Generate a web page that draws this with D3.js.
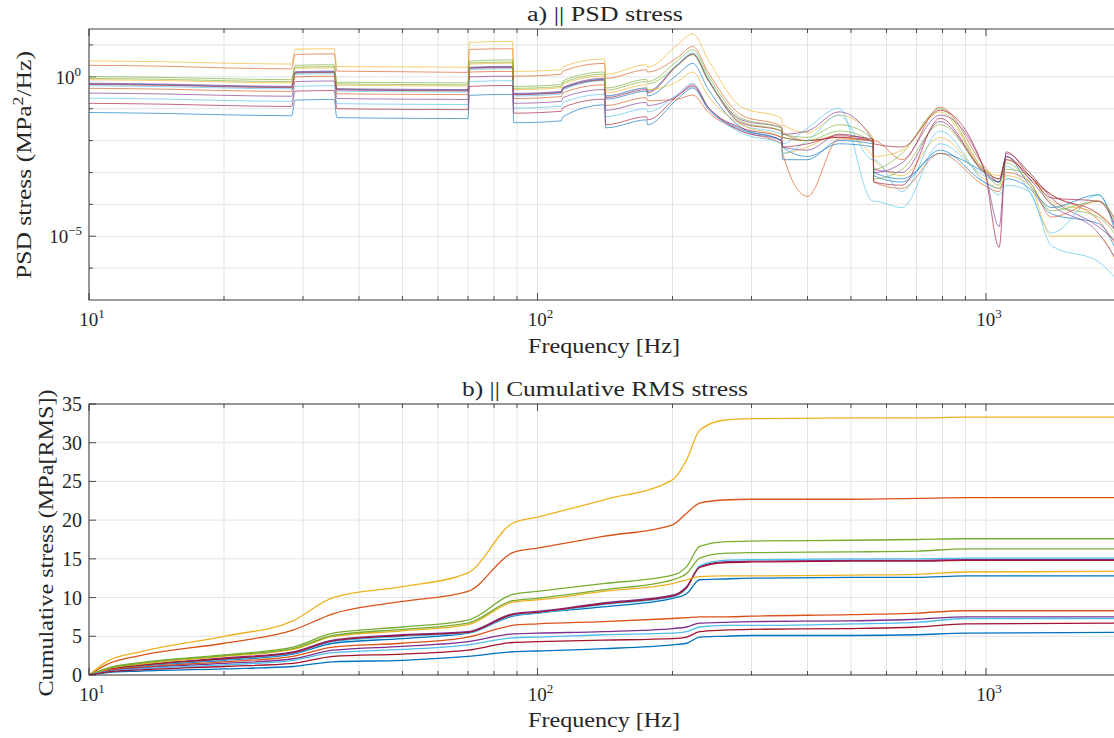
<!DOCTYPE html>
<html>
<head>
<meta charset="utf-8">
<script src="https://cdn.jsdelivr.net/npm/d3@7/dist/d3.min.js"></script>
<style>
  body { margin: 0; background: #fff; }
  text { font-family: "Liberation Serif", "DejaVu Serif", serif; fill: #262626; }
</style>
</head>
<body>
<div class="svg-container"></div>
<script>
// frequency grids [Hz]
var freqPsd = [10, 15, 20, 28.3, 28.8, 35.2, 35.7, 50, 70, 70.5, 88, 88.5, 113, 114, 141, 142, 175, 176, 205, 222, 240, 285,
               350, 352, 400, 470, 560, 562, 650, 790, 990, 1070, 1110, 1250, 1400, 1780, 2000];
var freqCum = [10, 11, 13, 20, 28.5, 35, 50, 70, 88, 100, 140, 200, 215, 230, 260, 300, 500, 700, 900, 2000];

// PSD stress, exponent of 10 (MPa^2/Hz)
var psdBlueA   = [-0.22,-0.25,-0.29,-0.32,0.14,0.16,-0.39,-0.41,-0.42,0.28,0.31,-0.54,-0.48,-0.35,-0.08,-0.7,-0.45,-0.6,0.07,0.42,-0.38,-1.6,-2.0,-2.6,-2.6,-2.0,-2.1,-3.1,-3.3,-2.3,-3.3,-3.5,-3.2,-3.5,-4.3,-4.6,-5.8];
var psdOrangeA = [0.36,0.33,0.28,0.25,0.70,0.72,0.18,0.16,0.14,0.86,0.88,0.02,0.08,0.18,0.42,-0.05,0.22,0.15,0.6,0.95,0.15,-1.2,-1.55,-1.75,-2.0,-1.9,-2.0,-2.0,-2.6,-0.95,-2.8,-3.3,-2.5,-3.2,-3.7,-4.5,-5.5];
var psdYellowA = [0.50,0.47,0.43,0.40,0.87,0.88,0.32,0.31,0.30,1.08,1.11,0.17,0.22,0.32,0.56,0.08,0.38,0.30,1.0,1.35,0.55,-0.95,-1.3,-1.5,-1.75,-1.2,-1.9,-2.5,-2.3,-1.1,-2.9,-3.1,-2.6,-3.0,-3.9,-4.3,-5.0];
var psdPurpleA = [-0.20,-0.23,-0.27,-0.30,0.16,0.18,-0.37,-0.39,-0.40,0.30,0.33,-0.52,-0.46,-0.33,-0.05,-0.6,-0.35,-0.45,0.37,0.72,-0.08,-1.35,-1.6,-1.8,-1.7,-1.1,-2.0,-3.0,-2.7,-1.2,-2.9,-4.7,-2.4,-3.0,-3.8,-4.7,-5.3];
var psdGreenA  = [0.01,-0.02,-0.06,-0.09,0.36,0.38,-0.17,-0.18,-0.19,0.50,0.53,-0.30,-0.24,-0.12,0.15,-0.35,-0.08,-0.15,0.5,0.85,0.05,-1.3,-1.6,-1.8,-1.9,-1.5,-1.95,-2.9,-2.4,-1.0,-2.9,-3.2,-2.9,-3.1,-4.0,-4.4,-5.2];
var psdCyanA   = [-0.28,-0.31,-0.35,-0.38,0.08,0.10,-0.45,-0.47,-0.48,0.23,0.25,-0.60,-0.54,-0.41,-0.12,-0.6,-0.35,-0.45,0.4,0.75,-0.05,-1.5,-1.8,-2.1,-1.6,-0.98,-3.9,-3.9,-4.1,-2.1,-3.1,-3.3,-2.8,-3.6,-4.9,-3.7,-5.4];
var psdRedA    = [-0.24,-0.27,-0.31,-0.34,0.12,0.14,-0.41,-0.43,-0.44,0.27,0.29,-0.56,-0.50,-0.37,-0.10,-0.65,-0.4,-0.5,0.35,0.70,-0.1,-1.45,-1.7,-1.9,-2.0,-1.9,-2.0,-2.1,-2.2,-1.05,-2.9,-5.35,-2.35,-3.1,-3.7,-4.3,-5.0];
var psdBlueB   = [-1.12,-1.15,-1.19,-1.22,-0.73,-0.71,-1.28,-1.30,-1.31,-0.58,-0.55,-1.44,-1.38,-1.25,-0.88,-1.6,-1.35,-1.5,-0.7,-0.35,-1.0,-1.65,-2.0,-2.2,-2.5,-2.1,-2.2,-3.0,-3.2,-2.4,-3.0,-3.3,-2.5,-3.4,-4.1,-3.7,-5.6];
var psdOrangeB = [-0.36,-0.39,-0.43,-0.46,0.0,0.02,-0.53,-0.55,-0.56,0.15,0.17,-0.68,-0.62,-0.50,-0.25,-0.9,-0.65,-0.75,-0.7,-0.57,-1.1,-1.7,-2.1,-2.4,-3.75,-1.95,-2.0,-3.3,-3.5,-2.4,-3.4,-3.6,-3.0,-3.3,-4.4,-3.9,-4.8];
var psdYellowB = [-0.09,-0.12,-0.16,-0.19,0.27,0.28,-0.26,-0.28,-0.29,0.40,0.43,-0.40,-0.34,-0.22,0.02,-0.5,-0.25,-0.4,-0.15,0.15,-0.6,-1.5,-1.9,-2.4,-2.2,-1.8,-2.5,-2.6,-3.1,-1.9,-3.2,-3.5,-3.1,-3.4,-5.0,-5.0,-6.2];
var psdPurpleB = [-0.51,-0.54,-0.58,-0.61,-0.15,-0.13,-0.68,-0.70,-0.71,0.0,0.02,-0.83,-0.77,-0.65,-0.40,-1.05,-0.8,-0.9,-0.6,-0.3,-0.95,-1.7,-2.0,-2.2,-2.3,-1.8,-2.05,-2.9,-3.0,-1.4,-3.0,-3.3,-2.5,-3.2,-4.0,-4.9,-6.0];
var psdGreenB  = [-0.05,-0.08,-0.12,-0.15,0.30,0.32,-0.22,-0.24,-0.25,0.44,0.46,-0.36,-0.30,-0.18,0.08,-0.42,-0.15,-0.22,0.35,0.70,-0.1,-1.4,-1.7,-1.9,-2.0,-1.7,-2.05,-3.2,-2.9,-1.5,-3.0,-3.4,-2.7,-3.3,-4.2,-3.9,-4.9];
var psdCyanB   = [-0.67,-0.70,-0.74,-0.77,-0.30,-0.28,-0.84,-0.86,-0.87,-0.15,-0.12,-0.98,-0.92,-0.80,-0.55,-1.25,-1.0,-1.1,-0.55,-0.2,-0.95,-1.76,-2.1,-2.4,-2.0,-1.2,-2.6,-2.6,-3.6,-1.7,-3.3,-3.7,-3.4,-3.6,-5.3,-5.8,-6.5];
var psdRedB    = [-0.83,-0.86,-0.90,-0.93,-0.45,-0.43,-1.0,-1.02,-1.03,-0.30,-0.27,-1.14,-1.08,-0.96,-0.70,-1.5,-1.25,-1.35,-0.6,-0.25,-0.95,-1.6,-1.9,-2.2,-2.1,-1.85,-1.95,-3.3,-3.4,-1.3,-2.95,-3.2,-2.6,-3.1,-3.8,-3.9,-5.1];

// cumulative RMS stress (MPa)
var cumBlueA   = [0,0.65,1.15,1.9,2.7,4.1,4.7,5.4,7.6,8.0,8.8,9.9,10.5,12.3,12.4,12.5,12.6,12.6,12.8,12.8];
var cumOrangeA = [0,1.4,2.5,4.1,5.8,7.9,9.5,10.8,15.8,16.4,17.9,19.4,20.9,22.2,22.6,22.7,22.7,22.8,22.9,22.9];
var cumYellowA = [0,1.8,3.0,5.0,7.0,10.0,11.4,13.2,19.6,20.4,22.6,25.2,27.8,31.6,32.9,33.1,33.2,33.2,33.3,33.3];
var cumPurpleA = [0,0.75,1.3,2.2,3.0,4.5,5.2,5.6,7.9,8.2,9.3,10.3,11.4,14.0,14.6,14.7,14.8,14.8,14.9,14.9];
var cumGreenA  = [0,0.9,1.6,2.6,3.6,5.4,6.2,7.1,10.4,10.8,11.8,12.9,14.0,16.6,17.2,17.3,17.4,17.5,17.6,17.6];
var cumCyanA   = [0,0.7,1.2,2.0,2.8,4.3,5.0,5.4,7.7,8.0,9.1,10.1,11.2,14.1,14.8,14.9,15.0,15.0,15.1,15.1];
var cumRedA    = [0,0.7,1.25,2.1,2.9,4.4,5.1,5.5,7.8,8.1,9.2,10.2,11.3,13.9,14.5,14.6,14.7,14.7,14.8,14.8];
var cumBlueB   = [0,0.3,0.5,0.8,1.1,1.7,1.9,2.4,3.0,3.1,3.4,3.9,4.1,4.9,5.0,5.1,5.1,5.2,5.4,5.5];
var cumOrangeB = [0,0.6,1.0,1.7,2.4,3.6,4.1,4.9,6.4,6.6,6.9,7.3,7.4,7.5,7.5,7.6,7.8,8.0,8.3,8.3];
var cumYellowB = [0,0.8,1.4,2.4,3.3,5.0,5.7,6.5,9.4,9.7,10.8,11.8,12.3,12.7,12.8,12.8,12.9,13.0,13.3,13.4];
var cumPurpleB = [0,0.5,0.9,1.5,2.1,3.2,3.7,4.3,5.3,5.4,5.6,6.0,6.2,6.7,6.8,6.9,7.0,7.2,7.5,7.5];
var cumGreenB  = [0,0.85,1.5,2.5,3.4,5.1,5.9,6.7,9.6,9.9,11.0,12.3,13.1,15.1,15.7,15.8,15.9,16.0,16.3,16.3];
var cumCyanB   = [0,0.45,0.8,1.3,1.9,2.9,3.3,3.9,4.8,4.9,5.2,5.4,5.6,6.2,6.4,6.4,6.6,6.8,7.3,7.3];
var cumRedB    = [0,0.4,0.65,1.1,1.5,2.4,2.7,3.2,4.2,4.3,4.5,4.7,4.9,5.6,5.8,5.9,6.0,6.2,6.6,6.7];

var lineColors = ["#0072BD","#D95319","#EDB120","#7E2F8E","#77AC30","#4DBEEE","#A2142F"];
var psdSeries = [psdBlueA, psdOrangeA, psdYellowA, psdPurpleA, psdGreenA, psdCyanA, psdRedA,
                 psdBlueB, psdOrangeB, psdYellowB, psdPurpleB, psdGreenB, psdCyanB, psdRedB];
var cumSeries = [cumBlueA, cumOrangeA, cumYellowA, cumPurpleA, cumGreenA, cumCyanA, cumRedA,
                 cumBlueB, cumOrangeB, cumYellowB, cumPurpleB, cumGreenB, cumCyanB, cumRedB];

var width = 1114, height = 738;
var axisColor = "#262626", gridColor = "#e3e3e3";
var left = 89, right = 1121;

var svg = d3.select(".svg-container").append("svg")
  .attr("width", width).attr("height", height);

var x = d3.scaleLog().domain([10, 2000]).range([left, right]);
var yPsd = d3.scaleLog().domain([1e-7, Math.pow(10, 1.5)]).range([300, 29]);
var yCum = d3.scaleLinear().domain([0, 35]).range([675, 404]);

function supLabel(sel, base, exp, xx, yy, anchor) {
  var t = sel.append("text").attr("x", xx).attr("y", yy)
    .attr("text-anchor", anchor).style("font-size", "19px");
  t.append("tspan").text(base);
  t.append("tspan").attr("dy", -8).style("font-size", "13px").text(exp);
  return t;
}

// label stretched to the width it has in the figure
function label(sel, txt, xx, yy, len, rot) {
  var t = sel.append("text").attr("text-anchor", "middle").style("font-size", "20px")
    .attr("textLength", len).attr("lengthAdjust", "spacingAndGlyphs");
  if (rot) t.attr("transform", "translate(" + xx + "," + yy + ") rotate(-90)");
  else t.attr("x", xx).attr("y", yy);
  if (txt) t.text(txt);
  return t;
}

function drawFrame(g, top, bottom, id) {
  // vertical grid at every log tick
  var xt = x.ticks();
  g.append("g").selectAll("line").data(xt).enter().append("line")
    .attr("x1", function(d){ return x(d); }).attr("x2", function(d){ return x(d); })
    .attr("y1", top).attr("y2", bottom)
    .attr("stroke", gridColor).attr("stroke-width", 1);
  // x tick marks (inward, top and bottom)
  var tk = g.append("g").attr("stroke", axisColor).attr("stroke-width", 0.8);
  xt.forEach(function(d){
    var len = [10, 100, 1000].indexOf(d) >= 0 ? 7 : 4;
    tk.append("line").attr("x1", x(d)).attr("x2", x(d)).attr("y1", bottom).attr("y2", bottom - len);
    tk.append("line").attr("x1", x(d)).attr("x2", x(d)).attr("y1", top).attr("y2", top + len);
  });
  [10, 100, 1000].forEach(function(d, i){
    supLabel(g, "10", String(i + 1), x(d) + 3, bottom + 26, "middle");
  });
  g.append("clipPath").attr("id", id).append("rect")
    .attr("x", left).attr("y", top).attr("width", right - left).attr("height", bottom - top);
  return tk;
}

function drawBox(g, top, bottom) {
  g.append("rect").attr("x", left).attr("y", top)
    .attr("width", right - left).attr("height", bottom - top)
    .attr("fill", "none").attr("stroke", axisColor).attr("stroke-width", 0.9);
}

// ---------- a) PSD stress ----------
var gA = svg.append("g");
var tkA = drawFrame(gA, 29, 300, "clipA");
var decades = d3.range(-6, 2);
gA.insert("g", ":first-child").selectAll("line").data(decades).enter().append("line")
  .attr("x1", left).attr("x2", right)
  .attr("y1", function(d){ return yPsd(Math.pow(10, d)); })
  .attr("y2", function(d){ return yPsd(Math.pow(10, d)); })
  .attr("stroke", gridColor).attr("stroke-width", 1);
decades.forEach(function(d){
  var len = (d === 0 || d === -5) ? 7 : 4;
  var yy = yPsd(Math.pow(10, d));
  tkA.append("line").attr("x1", left).attr("x2", left + len).attr("y1", yy).attr("y2", yy);
  tkA.append("line").attr("x1", right).attr("x2", right - len).attr("y1", yy).attr("y2", yy);
});
supLabel(gA, "10", "0", left - 8, yPsd(1) + 7, "end");
supLabel(gA, "10", "\u22125", left - 7, yPsd(1e-5) + 7, "end");

var psdLine = d3.line().curve(d3.curveMonotoneX)
  .x(function(d){ return x(d[0]); })
  .y(function(d){ return yPsd(Math.pow(10, d[1])); });
gA.append("g").attr("clip-path", "url(#clipA)").selectAll("path")
  .data(psdSeries).enter().append("path")
  .attr("d", function(s){ return psdLine(s.map(function(v, i){ return [freqPsd[i], v]; })); })
  .attr("fill", "none")
  .attr("stroke", function(s, i){ return lineColors[i % 7]; })
  .attr("stroke-width", 0.8).attr("stroke-opacity", 0.8);
drawBox(gA, 29, 300);

label(gA, "a) || PSD stress", 605, 21, 156);
label(gA, "Frequency [Hz]", 604, 353, 152);
var ylA = label(gA, null, 31, 165, 228, true);
ylA.append("tspan").text("PSD stress (MPa");
ylA.append("tspan").attr("dy", -8).style("font-size", "14px").text("2");
ylA.append("tspan").attr("dy", 8).text("/Hz)");

// ---------- b) Cumulative RMS stress ----------
var gB = svg.append("g");
var tkB = drawFrame(gB, 404, 675, "clipB");
var cumTicks = d3.range(0, 36, 5);
gB.insert("g", ":first-child").selectAll("line").data(cumTicks).enter().append("line")
  .attr("x1", left).attr("x2", right)
  .attr("y1", function(d){ return yCum(d); }).attr("y2", function(d){ return yCum(d); })
  .attr("stroke", gridColor).attr("stroke-width", 1);
cumTicks.forEach(function(d){
  var yy = yCum(d);
  tkB.append("line").attr("x1", left).attr("x2", left + 7).attr("y1", yy).attr("y2", yy);
  tkB.append("line").attr("x1", right).attr("x2", right - 7).attr("y1", yy).attr("y2", yy);
  gB.append("text").attr("x", left - 7).attr("y", yy + 7).attr("text-anchor", "end")
    .style("font-size", "20px").text(d);
});

var cumLine = d3.line().curve(d3.curveMonotoneX)
  .x(function(d){ return x(d[0]); })
  .y(function(d){ return yCum(d[1]); });
gB.append("g").attr("clip-path", "url(#clipB)").selectAll("path")
  .data(cumSeries).enter().append("path")
  .attr("d", function(s){ return cumLine(s.map(function(v, i){ return [freqCum[i], v]; })); })
  .attr("fill", "none")
  .attr("stroke", function(s, i){ return lineColors[i % 7]; })
  .attr("stroke-width", 1.3);
drawBox(gB, 404, 675);

label(gB, "b) || Cumulative RMS stress", 605, 396, 286);
label(gB, "Frequency [Hz]", 604, 727, 152);
label(gB, "Cumulative stress (MPa[RMS])", 53, 543, 307, true);
</script>
</body>
</html>
